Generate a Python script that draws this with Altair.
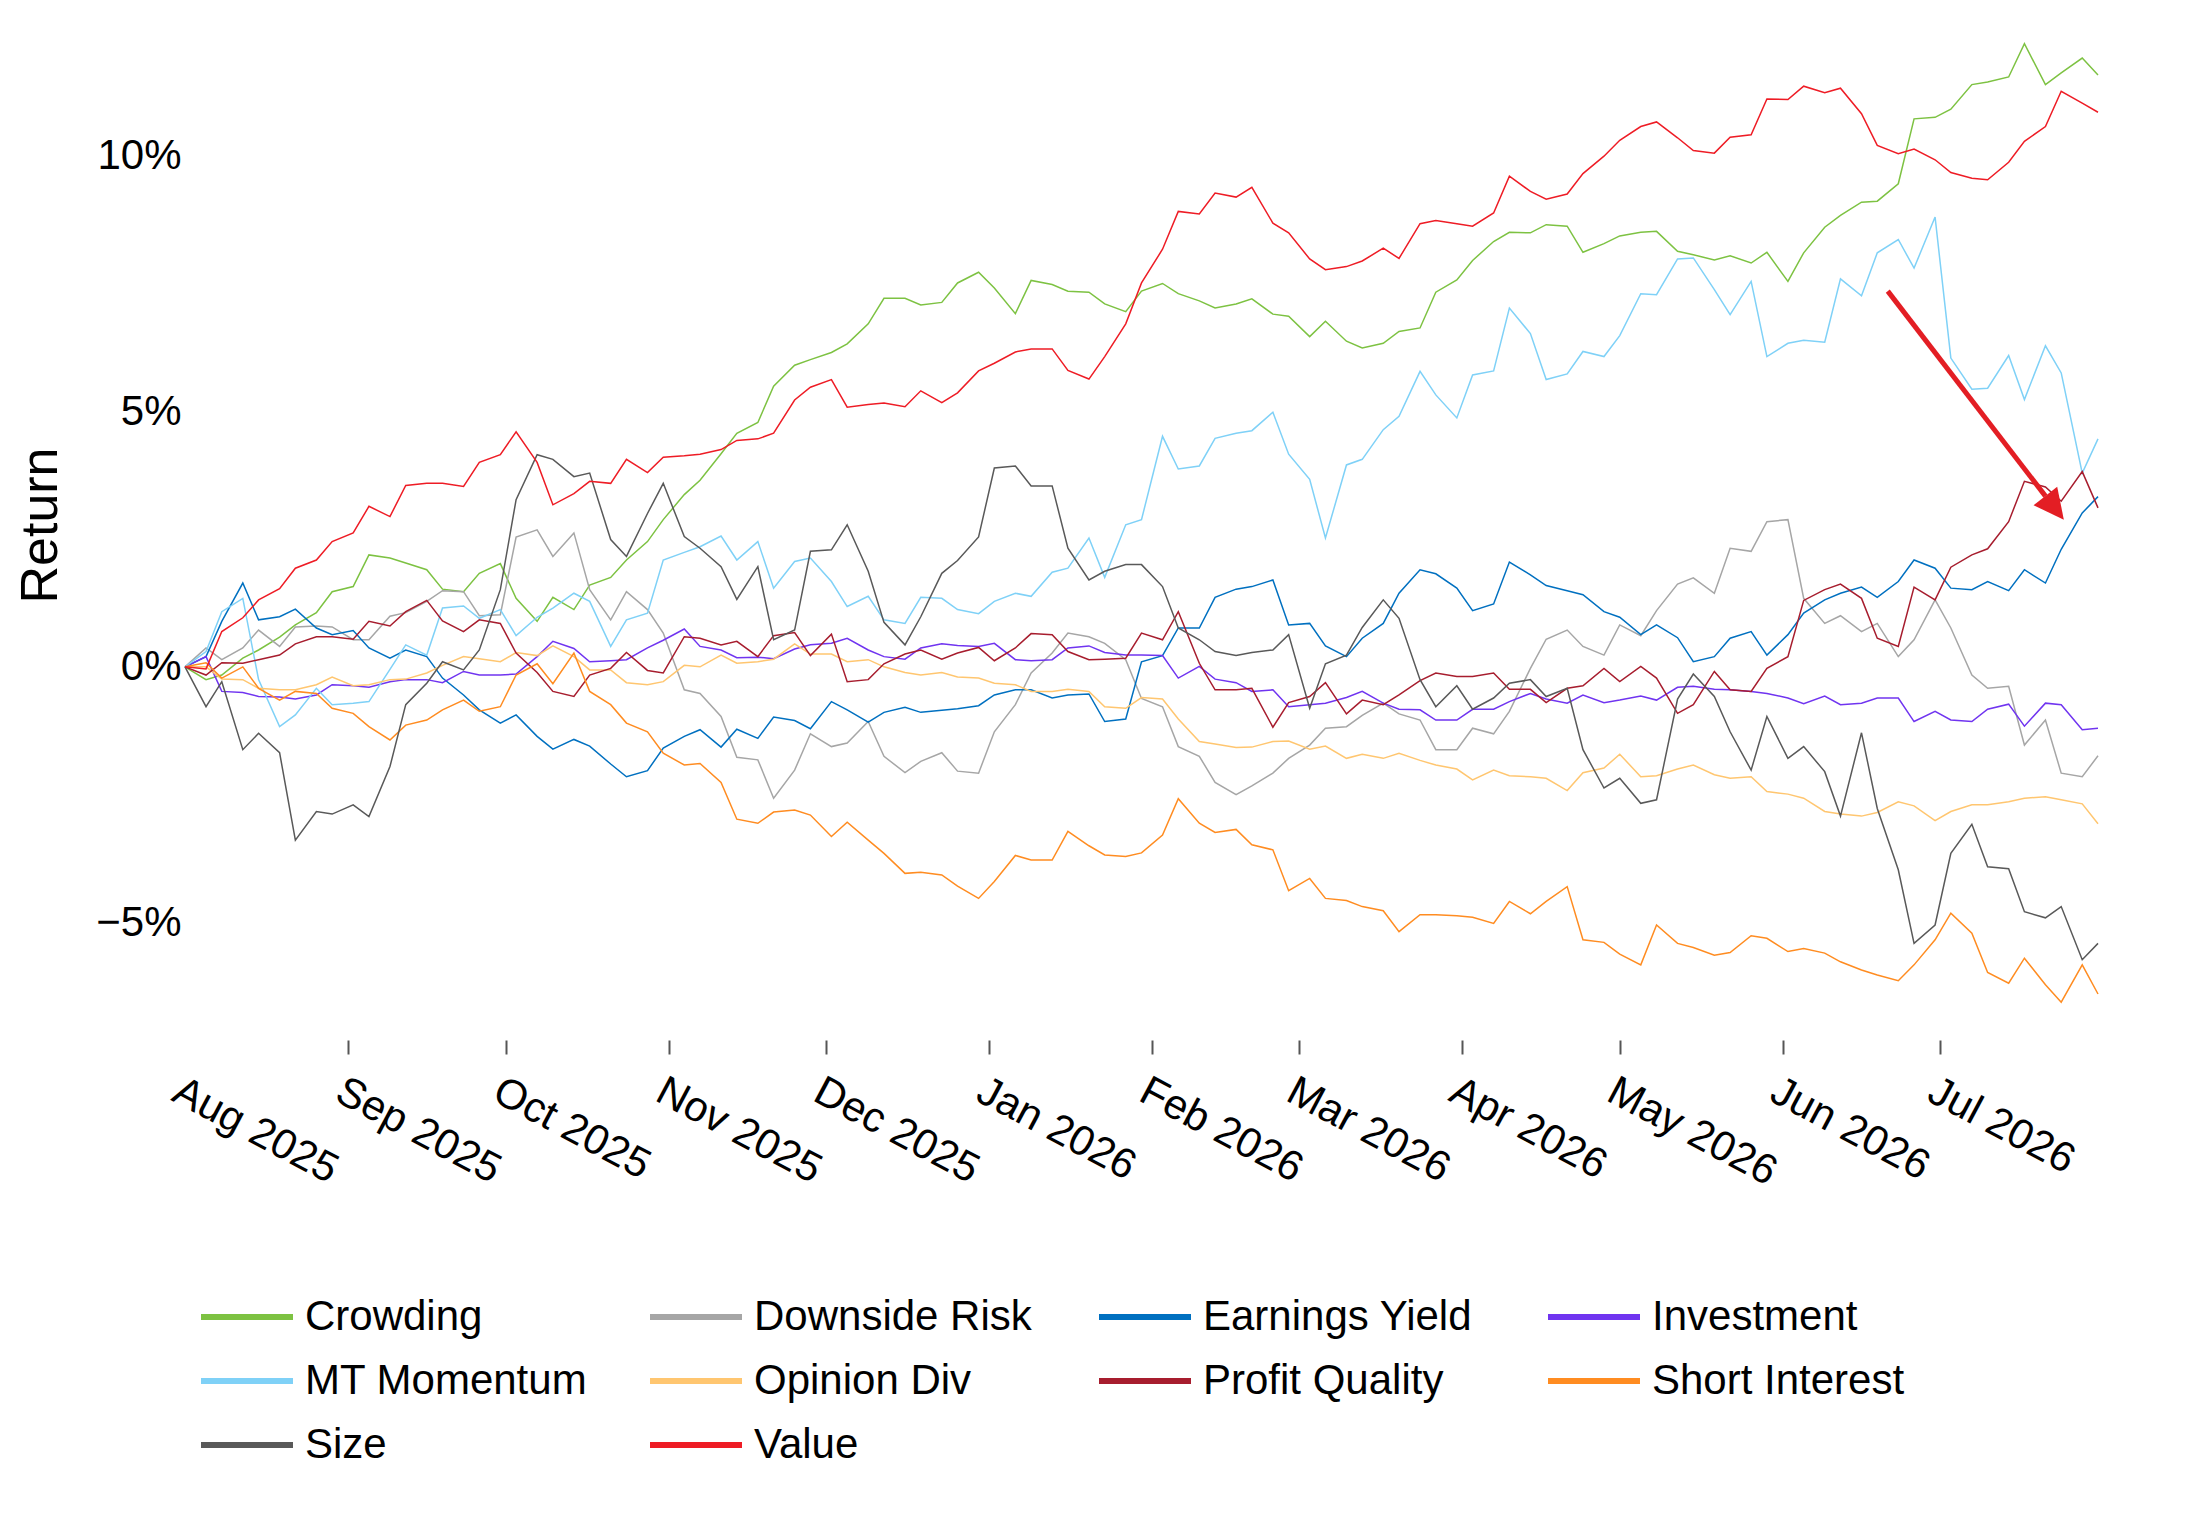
import altair as alt
import pandas as pd

factors = ["Crowding", "Downside Risk", "Earnings Yield", "Investment", "MT Momentum",
           "Opinion Div", "Profit Quality", "Short Interest", "Size", "Value"]
colors = ["#7DC242", "#A6A6A6", "#0070C0", "#7034F0", "#7FD1F7",
          "#FFC670", "#A71D2E", "#FF8C21", "#595959", "#EE1C25"]

# observation dates: Fridays (1 Aug 2025 .. 31 Jul 2026) and the Tuesdays between them
fridays = pd.date_range("2025-08-01", periods=53, freq="7D")
tuesdays = fridays[:-1] + pd.Timedelta(days=4)

# cumulative returns in percent
crowding_fri = [0, -0.16, 0.33, 0.82, 1.47, 2.19, 2.03, 1.52, 1.83, 1.34, 1.36, 1.60, 2.09, 2.88,
                3.65, 4.57, 5.49, 6.01, 6.32, 7.21, 7.08, 7.51, 7.41, 7.56, 7.35, 7.10, 7.35,
                7.30, 7.02, 7.20, 6.86, 6.76, 6.24, 6.56, 7.33, 7.95, 8.50, 8.65, 8.11, 8.43,
                8.52, 8.06, 8.04, 8.11, 8.10, 8.83, 9.11, 10.72, 10.91, 11.44, 12.19, 11.62, 11.58]
crowding_tue = [-0.25, 0.17, 0.58, 1.06, 1.57, 2.13, 1.90, 1.47, 2.02, 0.89, 1.12, 1.75, 2.45,
                3.37, 4.17, 4.78, 5.90, 6.15, 6.71, 7.21, 7.13, 7.72, 6.91, 7.48, 7.33, 6.95,
                7.50, 7.16, 7.10, 6.90, 6.46, 6.37, 6.33, 6.63, 7.57, 8.32, 8.49, 8.62, 8.28,
                8.50, 8.13, 7.96, 7.90, 7.54, 8.60, 9.09, 9.45, 10.75, 11.39, 11.54, 11.39, 11.91]

downside_fri = [0, 0.14, 0.72, 0.78, 0.78, 0.53, 1.06, 1.49, 1.00, 2.54, 2.16, 1.51, 1.47, 0.66,
                -0.52, -1.77, -2.57, -1.31, -1.49, -1.75, -1.85, -2.04, -1.27, -0.12, 0.66, 0.46, -0.62,
                -1.56, -2.26, -2.33, -1.79, -1.20, -0.95, -0.92, -1.62, -1.20, -0.87, 0.54, 0.40, 0.82,
                1.10, 1.74, 2.32, 2.84, 1.34, 1.00, 0.85, 0.53, 0.76, -0.42, -1.53, -2.08, -1.74]
downside_tue = [0.37, 0.37, 0.40, 0.80, 0.53, 0.99, 1.28, 1.47, 1.02, 2.68, 2.62, 0.92, 1.12,
                -0.45, -0.97, -1.82, -2.02, -1.56, -1.07, -2.07, -1.68, -2.08, -0.74, 0.27, 0.59, 0.14,
                -0.78, -1.75, -2.50, -2.08, -1.53, -1.17, -0.71, -1.04, -1.62, -1.31, -0.03, 0.72, 0.23,
                0.61, 1.62, 1.44, 2.26, 2.88, 0.85, 0.69, 0.20, 1.31, -0.16, -0.38, -1.04, -2.15]

earnings_fri = [0, 0.89, 0.92, 1.13, 0.63, 0.37, 0.33, -0.22, -0.84, -0.94, -1.61, -1.55, -2.15, -1.59,
                -1.23, -1.22, -0.98, -1.21, -0.84, -0.89, -0.89, -0.82, -0.55, -0.45, -0.55, -1.07, 0.10,
                0.76, 1.36, 1.57, 0.82, 0.41, 0.56, 1.44, 1.82, 1.10, 2.05, 1.59, 1.41, 0.97,
                0.82, 0.10, 0.56, 0.23, 1.05, 1.44, 1.36, 2.09, 1.54, 1.67, 1.90, 2.30, 3.33]
earnings_tue = [0.20, 1.64, 0.98, 0.76, 0.71, 0.17, 0.20, -0.55, -1.10, -1.36, -1.42, -1.90, -2.03,
                -1.36, -1.57, -1.40, -1.05, -0.68, -1.08, -0.79, -0.85, -0.76, -0.45, -0.61, -0.53, -1.02,
                0.22, 0.76, 1.52, 1.70, 0.85, 0.20, 0.85, 1.90, 1.54, 1.23, 1.80, 1.49, 1.08,
                0.63, 0.57, 0.20, 0.69, 0.63, 1.31, 1.56, 1.67, 1.93, 1.51, 1.49, 1.64, 3.01]

investment_fri = [0, -0.48, -0.58, -0.63, -0.35, -0.40, -0.25, -0.31, -0.16, -0.14, 0.50, 0.10, 0.14, 0.52,
                  0.40, 0.18, 0.16, 0.43, 0.56, 0.20, 0.37, 0.42, 0.46, 0.12, 0.37, 0.28, 0.23,
                  -0.22, -0.24, -0.48, -0.78, -0.71, -0.48, -0.83, -1.04, -0.83, -0.68, -0.63, -0.55, -0.65,
                  -0.65, -0.38, -0.45, -0.52, -0.72, -0.74, -0.61, -1.07, -1.04, -0.83, -1.16, -0.74, -1.20]
investment_tue = [0.20, -0.50, -0.59, -0.55, -0.37, -0.29, -0.25, -0.09, -0.16, 0.20, 0.36, 0.12, 0.37,
                  0.74, 0.33, 0.19, 0.35, 0.46, 0.33, 0.15, 0.45, 0.40, 0.14, 0.14, 0.41, 0.23,
                  0.22, 0.01, -0.31, -0.45, -0.74, -0.60, -0.71, -0.84, -1.04, -0.83, -0.52, -0.71, -0.70,
                  -0.57, -0.40, -0.44, -0.48, -0.61, -0.57, -0.71, -0.61, -0.87, -1.07, -0.73, -0.71, -1.23]

momentum_fri = [0, 1.08, -0.25, -0.94, -0.74, -0.68, 0.43, 1.15, 0.95, 0.61, 1.15, 1.28, 0.92, 2.09,
                2.35, 2.09, 1.54, 2.13, 1.18, 0.92, 1.36, 1.12, 1.28, 1.38, 1.93, 1.75, 2.88,
                3.87, 4.47, 4.62, 4.16, 2.52, 4.06, 4.90, 5.32, 5.71, 7.02, 5.62, 6.17, 6.48,
                7.28, 8.00, 6.89, 6.07, 6.39, 7.59, 8.10, 7.80, 6.04, 5.45, 5.23, 5.75, 4.46]
momentum_tue = [0.30, 1.34, -1.17, -0.42, -0.71, -0.05, 0.23, 1.19, 1.12, 0.97, 1.44, 0.40, 1.05,
                2.24, 2.56, 2.45, 2.06, 1.67, 1.38, 0.85, 1.34, 1.04, 1.44, 1.85, 2.52, 2.78,
                4.51, 3.93, 4.57, 4.98, 3.67, 3.95, 4.64, 5.78, 4.87, 5.79, 6.52, 5.73, 6.07,
                7.30, 7.98, 7.38, 7.54, 6.33, 6.35, 7.26, 8.36, 8.80, 5.43, 6.09, 6.28, 3.79]

opinion_fri = [0, -0.24, -0.42, -0.45, -0.20, -0.35, -0.24, 0.03, 0.16, 0.28, 0.41, -0.06, -0.31, -0.29,
               0.00, 0.07, 0.15, 0.25, 0.10, 0.00, -0.16, -0.20, -0.32, -0.48, -0.44, -0.78, -0.60,
               -1.02, -1.51, -1.57, -1.45, -1.55, -1.71, -1.69, -1.92, -2.21, -2.13, -2.18, -2.07, -1.71,
               -2.13, -1.92, -2.18, -2.44, -2.57, -2.88, -2.85, -2.72, -2.83, -2.70, -2.57, -2.60, -3.07]
opinion_tue = [0.00, -0.25, -0.45, -0.35, -0.37, -0.25, -0.12, 0.20, 0.10, 0.22, 0.20, -0.06, -0.35,
               0.03, 0.23, 0.10, 0.45, 0.25, 0.14, -0.11, -0.11, -0.22, -0.35, -0.48, -0.48, -0.81,
               -0.63, -1.46, -1.58, -1.46, -1.61, -1.79, -1.79, -1.83, -2.00, -2.02, -2.15, -2.42, -1.98,
               -2.15, -2.00, -2.11, -2.15, -2.49, -2.83, -2.92, -2.64, -3.01, -2.70, -2.64, -2.54, -2.68]

profit_fri = [0, 0.08, 0.14, 0.45, 0.59, 0.89, 1.08, 0.90, 0.92, 0.27, -0.48, -0.16, 0.28, -0.12,
              0.56, 0.50, 0.61, 0.22, -0.29, 0.06, 0.33, 0.27, 0.12, 0.65, 0.30, 0.15, 0.66,
              1.08, -0.45, -0.42, -0.70, -0.31, -0.65, -0.55, -0.12, -0.19, -0.44, -0.70, -0.37, -0.29,
              -0.22, -0.74, -0.45, -0.03, 1.30, 1.62, 0.56, 1.56, 1.95, 2.31, 3.63, 3.24, 3.11]
profit_tue = [-0.16, 0.07, 0.23, 0.59, 0.54, 0.80, 1.30, 0.69, 0.85, -0.11, -0.58, -0.03, -0.07,
              0.59, 0.43, 0.20, 0.67, 0.64, -0.25, 0.25, 0.15, 0.38, 0.37, 0.63, 0.14, 0.17,
              0.53, 0.07, -0.45, -1.18, -0.58, -0.92, -0.74, -0.27, -0.19, -0.12, -0.44, -0.42, -0.03,
              0.01, -0.91, -0.09, -0.48, 0.20, 1.51, 1.34, 0.40, 1.31, 2.19, 2.84, 3.52, 3.82]

short_fri = [0, -0.22, -0.42, -0.48, -0.81, -1.17, -1.14, -0.84, -0.87, -0.16, -0.33, -0.48, -1.10, -1.69,
             -1.89, -2.98, -2.84, -2.90, -3.04, -3.65, -4.02, -4.29, -4.20, -3.78, -3.22, -3.68, -3.64,
             -2.58, -3.24, -3.48, -4.38, -4.53, -4.69, -5.18, -4.85, -4.90, -4.59, -4.59, -5.34, -5.62,
             -5.05, -5.49, -5.59, -5.31, -5.51, -5.77, -6.03, -5.83, -4.82, -5.98, -5.70, -6.56, -6.40]
short_tue = [0.08, 0.00, -0.65, -0.52, -0.91, -1.43, -1.04, -0.65, -0.78, 0.06, 0.27, -0.74, -1.27,
             -1.92, -2.26, -3.06, -2.80, -3.32, -3.39, -4.04, -4.07, -4.53, -3.69, -3.78, -3.50, -3.71,
             -3.29, -3.06, -3.18, -3.58, -4.14, -4.57, -4.77, -4.85, -4.87, -5.02, -4.83, -4.30, -5.39,
             -5.83, -5.41, -5.64, -5.26, -5.57, -5.60, -5.93, -6.14, -5.34, -5.21, -6.19, -6.22, -5.83]

size_fri = [0, -0.29, -1.30, -3.39, -2.88, -2.93, -0.74, 0.10, 0.33, 3.27, 4.06, 3.79, 2.16, 3.59,
            2.32, 1.32, 0.53, 2.26, 2.78, 0.87, 0.98, 2.08, 3.89, 3.54, 2.32, 1.87, 2.00,
            0.76, 0.30, 0.28, 0.63, 0.06, 0.77, 0.95, -0.78, -0.83, -0.32, -0.58, -1.62, -2.18,
            -2.60, -0.14, -1.27, -0.97, -1.56, -2.92, -2.77, -5.41, -3.65, -3.91, -4.79, -4.69, -5.41]
size_tue = [-0.78, -1.62, -1.68, -2.83, -2.70, -1.95, -0.32, -0.06, 1.51, 4.15, 3.72, 2.49, 3.00,
            2.55, 1.96, 1.96, 0.72, 2.29, 1.87, 0.43, 1.83, 2.54, 3.93, 3.54, 1.70, 2.00,
            1.57, 0.53, 0.22, 0.33, -0.81, 0.23, 1.31, -0.25, -0.37, -0.61, -0.25, -0.42, -2.37,
            -2.67, -0.63, -0.58, -2.02, -1.79, -2.05, -1.29, -3.97, -5.05, -3.08, -3.95, -4.91, -5.73]

value_fri = [0, 0.69, 1.31, 1.93, 2.45, 3.14, 3.55, 3.59, 4.00, 4.60, 3.17, 3.63, 4.06, 4.10,
             4.16, 4.43, 4.57, 5.47, 5.08, 5.16, 5.40, 5.36, 5.94, 6.22, 5.80, 6.07, 7.51,
             8.91, 9.27, 9.38, 8.49, 7.77, 7.94, 7.99, 8.73, 8.62, 9.60, 9.15, 9.65, 10.30,
             10.66, 10.10, 10.36, 11.11, 11.36, 11.32, 10.20, 10.13, 9.67, 9.53, 10.28, 11.26, 10.85]
value_tue = [-0.04, 0.96, 1.53, 2.09, 2.62, 2.94, 3.59, 3.53, 4.15, 4.00, 3.39, 3.59, 3.80,
             4.13, 4.25, 4.46, 5.22, 5.62, 5.13, 5.09, 5.17, 5.79, 6.16, 6.22, 5.63, 6.71,
             8.17, 8.86, 9.19, 8.68, 7.98, 7.83, 8.19, 8.67, 8.67, 8.88, 9.30, 9.25, 9.99,
             10.57, 10.35, 10.05, 10.41, 11.10, 11.23, 10.82, 10.04, 9.92, 9.56, 9.87, 10.57, 11.03]

series = {
    "Crowding": (crowding_fri, crowding_tue),
    "Downside Risk": (downside_fri, downside_tue),
    "Earnings Yield": (earnings_fri, earnings_tue),
    "Investment": (investment_fri, investment_tue),
    "MT Momentum": (momentum_fri, momentum_tue),
    "Opinion Div": (opinion_fri, opinion_tue),
    "Profit Quality": (profit_fri, profit_tue),
    "Short Interest": (short_fri, short_tue),
    "Size": (size_fri, size_tue),
    "Value": (value_fri, value_tue),
}

# annotation arrow (date, percent)
arrow_start = ("2026-06-21T00:00:00", 7.35)
arrow_end = ("2026-07-21T00:00:00", 3.34)
arrow_tip = ("2026-07-24T12:00:00", 2.88)

rows = []
for name in factors:
    fri_vals, tue_vals = series[name]
    for d, v in zip(fridays, fri_vals):
        rows.append({"date": d, "factor": name, "ret": v / 100.0})
    for d, v in zip(tuesdays, tue_vals):
        rows.append({"date": d, "factor": name, "ret": v / 100.0})
df = pd.DataFrame(rows).sort_values(["factor", "date"]).reset_index(drop=True)

shaft_df = pd.DataFrame({
    "date": [pd.Timestamp(arrow_start[0])], "ret": [arrow_start[1] / 100.0],
    "date2": [pd.Timestamp(arrow_end[0])], "ret2": [arrow_end[1] / 100.0],
})
head_df = pd.DataFrame({"date": [pd.Timestamp(arrow_tip[0])], "ret": [arrow_tip[1] / 100.0]})

FONT = "Liberation Sans"

x_axis = alt.Axis(
    format="%b %Y",
    tickCount={"interval": "month", "step": 1},
    labelAngle=28,
    labelAlign="left",
    labelBaseline="top",
    labelPadding=16,
    labelFontSize=42,
    labelFont=FONT,
    labelColor="black",
    labelOverlap=False,
    labelBound=False,
    labelFlush=False,
    labelLimit=600,
    tickSize=14,
    tickWidth=2,
    tickColor={"condition": {"test": "month(datum.value) == 7 && year(datum.value) == 2025",
                             "value": "transparent"},
               "value": "#555555"},
    domain=False,
    grid=False,
)
y_axis = alt.Axis(
    values=[-0.05, 0, 0.05, 0.10],
    format=".0%",
    labelFontSize=42,
    labelFont=FONT,
    labelColor="black",
    labelPadding=4,
    ticks=False,
    domain=False,
    grid=False,
    titleFontSize=52,
    titleFont=FONT,
    titleFontWeight="normal",
    titleColor="black",
    titlePadding=28,
    titleY=492,
)

x_scale = alt.Scale(domain=[alt.DateTime(year=2025, month=8, date=1),
                            alt.DateTime(year=2026, month=7, date=31)])
y_scale = alt.Scale(domain=[-0.073, 0.124], nice=False, zero=False)

lines = alt.Chart(df).mark_line(strokeWidth=1.5).encode(
    x=alt.X("date:T", title=None, scale=x_scale, axis=x_axis),
    y=alt.Y("ret:Q", title="Return", scale=y_scale, axis=y_axis),
    color=alt.Color(
        "factor:N",
        scale=alt.Scale(domain=factors, range=colors),
        legend=alt.Legend(
            title=None,
            orient="none",
            legendX=13,
            legendY=1241,
            direction="horizontal",
            columns=4,
            columnPadding=50,
            rowPadding=0,
            gridAlign="all",
            symbolType="M-1,0L1.3,0",
            symbolSize=6400,
            symbolStrokeWidth=6,
            labelFontSize=42,
            labelFont=FONT,
            labelColor="black",
            labelOffset=21,
            labelLimit=800,
            padding=0,
        ),
    ),
)

shaft = alt.Chart(shaft_df).mark_rule(color="#E31E24", strokeWidth=5).encode(
    x=alt.X("date:T", title=None),
    y=alt.Y("ret:Q", title="Return"),
    x2="date2:T",
    y2="ret2:Q",
)

head = alt.Chart(head_df).mark_point(
    shape="M0,0L-0.5,1L0.5,1Z", filled=True, size=3600, angle=142,
    color="#E31E24", opacity=1,
).encode(
    x=alt.X("date:T", title=None),
    y=alt.Y("ret:Q", title="Return"),
)

chart = alt.layer(lines, shaft, head).properties(
    width=1913,
    height=1007,
    padding={"left": 177, "top": 25, "right": 84, "bottom": 480},
    autosize=alt.AutoSizeParams(type="none"),
    background="white",
).configure_view(stroke=None)

chart.save("out.html", embed_options={"renderer": "svg", "actions": False})
